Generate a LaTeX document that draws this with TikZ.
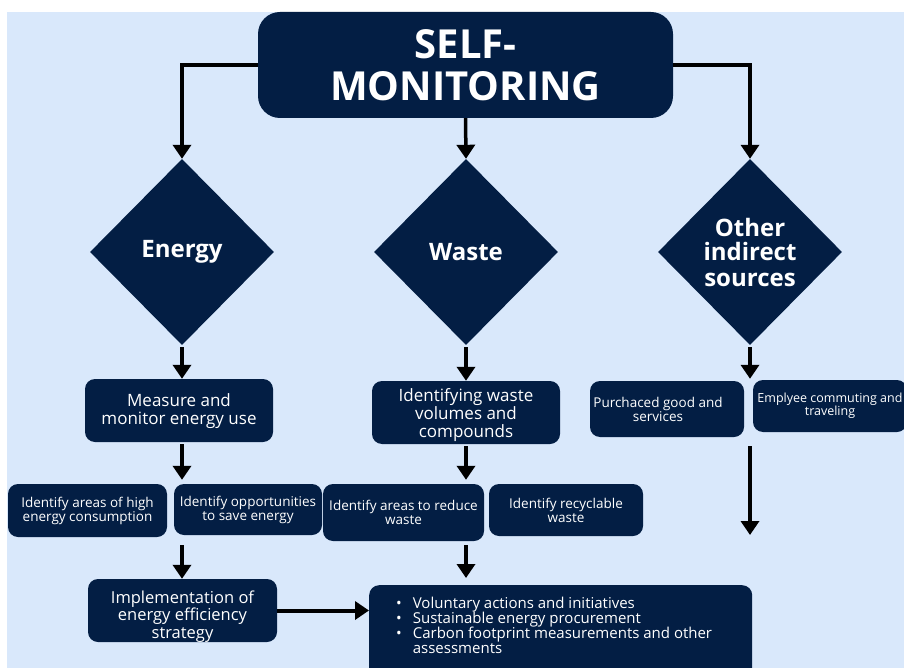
\documentclass[tikz,border=0pt]{standalone}
\usepackage{fontspec}
\setmainfont{Open Sans}
\usetikzlibrary{shapes.geometric,arrows.meta}
\definecolor{navy}{RGB}{3,30,68}
\definecolor{bgblue}{RGB}{217,232,251}
\newcommand\fsz[2]{\fontsize{#1}{#2}\selectfont\lineskiplimit=-30pt\relax}
\tikzset{
  box/.style={fill=navy, rounded corners=10pt, text=white, align=center, inner sep=0pt},
  dia/.style={diamond, fill=navy, text=white, align=center, inner sep=0pt,
    minimum width=184pt, minimum height=186pt, font=\bfseries\fsz{24}{25}},
  arr/.style={line width=4.5pt, -{Triangle[width=18pt,length=14pt]}},
  tarr/.style={line width=3.5pt, -{Triangle[width=18pt,length=14pt]}},
  mid/.style={font=\fsz{17}{18}},
  small/.style={font=\fsz{13.5}{14}},
  impltext/.style={font=\fsz{16.5}{17.5}}
}
\begin{document}
\begin{tikzpicture}[x=1pt,y=-1pt]
\clip (0,0) rectangle (904,668);
\fill[white] (0,0) rectangle (904,668);
\fill[bgblue] (7,12) rectangle (904,668);
% title
\node[box, rounded corners=22pt, minimum width=415pt, minimum height=106pt,
  font=\bfseries\fsz{40}{42}] (title) at (465.5,65) {SELF-\\MONITORING};
% diamonds
\node[dia] (energy) at (182,252) {Energy};
\node[dia] (waste) at (466,252) {Waste};
\node[dia] (other) at (750,252) {Other\\indirect\\sources};
% second row
\node[box, mid, minimum width=188pt, minimum height=63pt] (measure) at (179,410.5) {\rule{0pt}{15pt}Measure and\\monitor energy use};
\node[box, mid, minimum width=188pt, minimum height=63pt] (ident) at (466,412.5) {\rule{0pt}{19pt}Identifying waste\\volumes and\\compounds};
\node[box, small, minimum width=154pt, minimum height=56pt] (purch) at (667,409) {\hspace*{-18pt}Purchaced good and\\\hspace*{-18pt}services};
\node[box, font=\fsz{12.5}{13}, minimum width=154pt, minimum height=52pt] (emp) at (830,406) {Emplyee commuting and\\traveling};
% third row
\node[box, small, minimum width=159pt, minimum height=53pt] (hi) at (87.5,510.5) {Identify areas of high\\energy consumption};
\node[box, small, minimum width=148pt, minimum height=51pt] (opp) at (248,509.5) {Identify opportunities\\to save energy};
\node[box, small, minimum width=161pt, minimum height=57pt] (red) at (403.5,512.5) {Identify areas to reduce\\waste};
\node[box, small, minimum width=154pt, minimum height=52pt] (rec) at (566,510) {Identify recyclable\\waste};
% bottom row
\node[box, impltext, minimum width=189pt, minimum height=63pt] (impl) at (182.5,610.5) {\rule{0pt}{24pt}Implementation of\\energy efficiency\\strategy};
\node[box, anchor=north west, minimum width=383pt, minimum height=110pt] (bul) at (369,585) {};
\node[anchor=north west, text=white, align=left, inner sep=0pt,
  font=\fsz{15}{15}] (bultxt) at (396,597)
  {\textbullet\hspace{11pt}Voluntary actions and initiatives\\
   \textbullet\hspace{11pt}Sustainable energy procurement\\
   \textbullet\hspace{11pt}Carbon footprint measurements and other\\
   \phantom{\textbullet}\hspace{11pt}assessments};
\coordinate (oend) at (750,535);
% connectors
\draw[tarr] (title.west) -| (energy.north);
\draw[tarr] (title.south) -- (waste.north);
\draw[tarr] (title.east) -| (other.north);
\draw[arr, shorten <=2pt] (energy.south) -- (energy.south |- measure.north);
\draw[arr, shorten <=2pt] (waste.south) -- (waste.south |- ident.north);
\draw[arr, shorten <=2pt, shorten >=2pt] (other.south) -- (other.south |- purch.north);
\draw[arr, shorten <=2pt, shorten >=4pt] (energy.south |- measure.south) -- (energy.south |- hi.north);
\draw[arr, shorten <=2pt, shorten >=4pt] (waste.south |- ident.south) -- (waste.south |- red.north);
\draw[arr, shorten <=8pt] (energy.south |- hi.south) -- (energy.south |- impl.north);
\draw[arr, shorten <=4pt, shorten >=7pt] (waste.south |- red.south) -- (waste.south |- bul.north);
\draw[arr, shorten <=9pt] (other.south |- purch.south) -- (oend);
\draw[arr, line width=4pt] (impl.east) -- (impl.east -| bul.west);
\end{tikzpicture}
\end{document}
